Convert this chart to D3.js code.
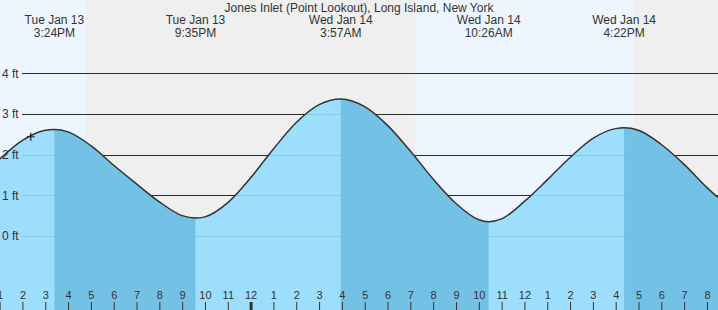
<!DOCTYPE html>
<html>
<head>
<meta charset="utf-8">
<script src="https://cdn.jsdelivr.net/npm/d3@7"></script>
<style>
  body { margin: 0; background: #fff; }
  svg { display: block; font-family: "Liberation Sans", Arial, sans-serif; }
</style>
</head>
<body>
<div id="tideChart"></div>
<script>
const title = "Jones Inlet (Point Lookout), Long Island, New York";

// tide height readings (ft)
const tideTimes = [
  "2026-01-13 13:00", "2026-01-13 14:00", "2026-01-13 15:00", "2026-01-13 15:24",
  "2026-01-13 16:00", "2026-01-13 17:00", "2026-01-13 18:00", "2026-01-13 19:00",
  "2026-01-13 20:00", "2026-01-13 21:00", "2026-01-13 21:35", "2026-01-13 22:00",
  "2026-01-13 23:00", "2026-01-14 00:00", "2026-01-14 01:00", "2026-01-14 02:00",
  "2026-01-14 03:00", "2026-01-14 03:57", "2026-01-14 05:00", "2026-01-14 06:00",
  "2026-01-14 07:00", "2026-01-14 08:00", "2026-01-14 09:00", "2026-01-14 10:00",
  "2026-01-14 10:26", "2026-01-14 11:00", "2026-01-14 12:00", "2026-01-14 13:00",
  "2026-01-14 14:00", "2026-01-14 15:00", "2026-01-14 16:00", "2026-01-14 16:22",
  "2026-01-14 17:00", "2026-01-14 18:00", "2026-01-14 19:00", "2026-01-14 20:00",
  "2026-01-14 21:00"
];
const tideFeet = [
  1.89, 2.35, 2.60, 2.62,
  2.56, 2.22, 1.74, 1.28,
  0.84, 0.50, 0.44, 0.47,
  0.82, 1.43, 2.14, 2.79,
  3.23, 3.37, 3.18, 2.72,
  2.09, 1.40, 0.80, 0.40,
  0.35, 0.42, 0.85, 1.38,
  1.93, 2.40, 2.64, 2.66,
  2.60, 2.25, 1.76, 1.19,
  0.70
];

// high / low tides shown in the header
const extremeTimes = ["2026-01-13 15:24", "2026-01-13 21:35", "2026-01-14 03:57", "2026-01-14 10:26", "2026-01-14 16:22"];
const extremeDays = ["Tue Jan 13", "Tue Jan 13", "Wed Jan 14", "Wed Jan 14", "Wed Jan 14"];
const extremeLabels = ["3:24PM", "9:35PM", "3:57AM", "10:26AM", "4:22PM"];
const extremeKinds = ["high", "low", "high", "low", "high"];

// night spans (sunset -> sunrise)
const nightStarts = ["2026-01-13 16:48", "2026-01-14 16:49"];
const nightEnds = ["2026-01-14 07:13", "2026-01-14 23:00"];

const yTicks = [0, 1, 2, 3, 4];
const hourStart = "2026-01-13 13:00", hourEnd = "2026-01-14 21:00";
const nowTime = "2026-01-13 14:22";
const nowFeet = 2.44;

const parse = d3.timeParse("%Y-%m-%d %H:%M");
const W = 718, H = 310;

const data = tideTimes.map((t, i) => ({ t: parse(t), v: tideFeet[i] }));

const x = d3.scaleTime()
  .domain([parse("2026-01-13 13:01"), parse("2026-01-14 20:29")])
  .range([0, W]);
const y = d3.scaleLinear().domain([0, 4]).range([236, 73.3]);

const svg = d3.select("#tideChart").append("svg")
  .attr("width", W).attr("height", H);

// background: day / night
svg.append("rect").attr("width", W).attr("height", H).attr("fill", "#edf6fe");
svg.selectAll(".night")
  .data(nightStarts.map((s, i) => [parse(s), parse(nightEnds[i])]))
  .enter().append("rect")
  .attr("x", d => x(d[0]))
  .attr("width", d => Math.min(W, x(d[1])) - x(d[0]))
  .attr("y", 0).attr("height", H)
  .attr("fill", "#efefef");

// gridlines
svg.selectAll(".grid")
  .data(yTicks)
  .enter().append("line")
  .attr("x1", 22).attr("x2", W)
  .attr("y1", d => Math.round(y(d)) + 0.5).attr("y2", d => Math.round(y(d)) + 0.5)
  .attr("stroke", "#2b2b2b").attr("stroke-width", 1);

// water
const area = d3.area()
  .x(d => x(d.t)).y0(H).y1(d => y(d.v))
  .curve(d3.curveMonotoneX);

const ex = extremeTimes.map(parse);
const defs = svg.append("defs");
const clip = defs.append("clipPath").attr("id", "falling");
ex.forEach((t, i) => {
  if (extremeKinds[i] !== "high") return;
  const end = i + 1 < ex.length ? x(ex[i + 1]) : W;
  clip.append("rect").attr("x", x(t)).attr("y", 0)
    .attr("width", end - x(t)).attr("height", H);
});

svg.append("path").datum(data)
  .attr("d", area)
  .attr("fill", "#93dbfd").attr("fill-opacity", 0.9);
svg.append("path").datum(data)
  .attr("d", area)
  .attr("clip-path", "url(#falling)")
  .attr("fill", "#70bfe4").attr("fill-opacity", 0.92);

const line = d3.line().x(d => x(d.t)).y(d => y(d.v)).curve(d3.curveMonotoneX);
svg.append("path").datum(data)
  .attr("d", line)
  .attr("fill", "none").attr("stroke", "#333").attr("stroke-width", 1.5);

// y labels
svg.selectAll(".ylab")
  .data(yTicks)
  .enter().append("text")
  .attr("x", 2).attr("y", d => y(d) + 4.2)
  .attr("font-size", 12).attr("fill", "#333")
  .text(d => d + " ft");

// hour axis
const axis = svg.append("g")
  .attr("transform", `translate(0,${H})`)
  .call(d3.axisTop(x)
    .tickValues(d3.timeHour.range(parse(hourStart), parse(hourEnd)))
    .tickSize(8).tickPadding(3)
    .tickFormat(d3.timeFormat("%-I")));
axis.select(".domain").remove();
axis.selectAll("line").attr("stroke", "#333");
axis.selectAll(".tick").filter(d => d.getHours() === 0)
  .select("line").attr("stroke-width", 3);
axis.selectAll("text")
  .attr("font-size", 11).attr("fill", "#333")
  .attr("font-family", "Liberation Sans, Arial, sans-serif");

// header
svg.append("text")
  .attr("x", 359).attr("y", 11.5)
  .attr("text-anchor", "middle").attr("font-size", 12).attr("fill", "#333")
  .text(title);
const heads = svg.selectAll(".head")
  .data(ex)
  .enter().append("g")
  .attr("transform", d => `translate(${x(d)},0)`);
heads.append("text")
  .attr("y", 24).attr("text-anchor", "middle").attr("font-size", 12).attr("fill", "#333")
  .text((d, i) => extremeDays[i]);
heads.append("text")
  .attr("y", 36.5).attr("text-anchor", "middle").attr("font-size", 12).attr("fill", "#333")
  .text((d, i) => extremeLabels[i]);

// current time marker
const nx = x(parse(nowTime)), ny = y(nowFeet);
svg.append("path")
  .attr("d", `M${nx - 4},${ny}H${nx + 4}M${nx},${ny - 4}V${ny + 4}`)
  .attr("stroke", "#222").attr("stroke-width", 1.2);
</script>
</body>
</html>
